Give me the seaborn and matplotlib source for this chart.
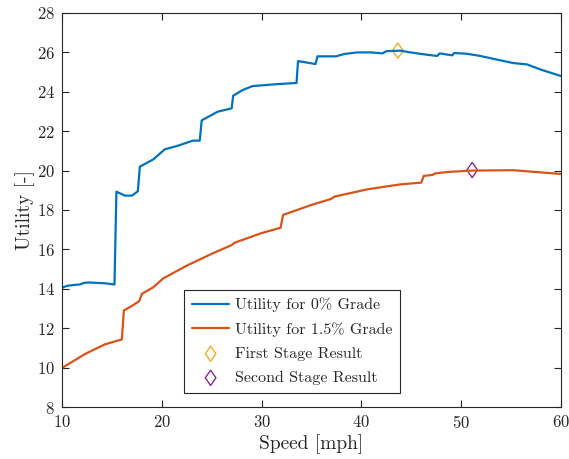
import matplotlib
matplotlib.use("Agg")
import matplotlib.pyplot as plt
import seaborn as sns
import pandas as pd
from matplotlib.path import Path

# ---- data ----
speed_0 = [10, 10.5, 11.3, 11.8, 12.2, 12.7, 14.3, 15.26, 15.45, 16.3, 17.0, 17.6, 17.8,
           19.15, 20.3, 21.6, 23.1, 23.8, 24.0, 25.6, 27.0, 27.15, 28.1, 29.1, 31.3, 33.5,
           33.65, 35.4, 35.6, 37.45, 38.3, 39.6, 41.0, 42.1, 42.5, 43.9, 44.9, 46.6, 47.6,
           47.85, 49.1, 49.3, 50.6, 51.9, 53.9, 55.2, 56.6, 57.9, 60]
util_0 = [14.05, 14.15, 14.2, 14.22, 14.3, 14.32, 14.28, 14.22, 18.93, 18.73, 18.73, 18.95, 20.2,
          20.57, 21.08, 21.26, 21.52, 21.52, 22.55, 22.99, 23.16, 23.8, 24.09, 24.29, 24.38, 24.45,
          25.56, 25.41, 25.8, 25.8, 25.92, 26.0, 26.0, 25.95, 26.06, 26.09, 26.0, 25.88, 25.82,
          25.95, 25.85, 25.97, 25.93, 25.82, 25.6, 25.46, 25.39, 25.14, 24.8]

speed_15 = [10, 12.3, 14.3, 16.0, 16.2, 17.0, 17.75, 18.0, 19.15, 20.15, 22.6, 25.1, 27.0,
            27.3, 29.95, 31.9, 32.15, 34.95, 36.95, 37.3, 40.6, 43.9, 46.0, 46.25, 47.1, 47.4,
            48.9, 51.1, 55.2, 57.2, 60]
util_15 = [9.98, 10.69, 11.18, 11.43, 12.9, 13.13, 13.38, 13.74, 14.08, 14.53, 15.2, 15.8, 16.22,
           16.34, 16.82, 17.1, 17.75, 18.25, 18.56, 18.68, 19.05, 19.3, 19.39, 19.73, 19.78, 19.86,
           19.94, 20.0, 20.02, 19.94, 19.83]

first_stage = (43.65, 26.09)
second_stage = (51.1, 20.03)

labels = ["Utility for 0% Grade", "Utility for 1.5% Grade",
          "First Stage Result", "Second Stage Result"]
x_ticks = [10, 20, 30, 40, 50, 60]
y_ticks = [8, 10, 12, 14, 16, 18, 20, 22, 24, 26, 28]

# ---- style ----
sns.set_style("ticks")
plt.rcParams["font.family"] = ["cmr10", "DejaVu Serif"]
plt.rcParams["mathtext.fontset"] = "cm"
plt.rcParams["axes.formatter.use_mathtext"] = True

dark = "#262626"
blue, orange, yellow, purple = "#0072BD", "#D95319", "#EDB120", "#7E2F8E"

# MATLAB-like diamond (taller than wide)
diamond = Path([(0, 1), (0.7, 0), (0, -1), (-0.7, 0), (0, 1)],
               [Path.MOVETO, Path.LINETO, Path.LINETO, Path.LINETO, Path.CLOSEPOLY])

fig = plt.figure(figsize=(5.69, 4.59), dpi=100)
left, right, bottom, top = 62 / 569, 561 / 569, 1 - 407 / 459, 1 - 13 / 459
ax = fig.add_axes([left, bottom, right - left, top - bottom])

df0 = pd.DataFrame({"speed": speed_0, "util": util_0})
df15 = pd.DataFrame({"speed": speed_15, "util": util_15})

sns.lineplot(data=df0, x="speed", y="util", ax=ax, color=blue, lw=1.6,
             estimator=None, sort=False, label=labels[0])
sns.lineplot(data=df15, x="speed", y="util", ax=ax, color=orange, lw=1.6,
             estimator=None, sort=False, label=labels[1])
sns.scatterplot(x=[first_stage[0]], y=[first_stage[1]], ax=ax, marker=diamond, s=120,
                facecolors="none", edgecolor=yellow, linewidth=1.0, label=labels[2])
sns.scatterplot(x=[second_stage[0]], y=[second_stage[1]], ax=ax, marker=diamond, s=120,
                facecolors="none", edgecolor=purple, linewidth=1.0, label=labels[3])

ax.set_xlim(10, 60)
ax.set_ylim(8, 28)
ax.set_xticks(x_ticks)
ax.set_yticks(y_ticks)
ax.set_xlabel("Speed [mph]", fontsize=14, color=dark, labelpad=2)
ax.set_ylabel("Utility [-]", fontsize=14, color=dark, labelpad=1)

for s in ax.spines.values():
    s.set_visible(True)
    s.set_color(dark)
    s.set_linewidth(0.8)
ax.tick_params(direction="in", length=5, width=0.8, colors=dark, labelsize=12,
               top=True, right=True, pad=5)

leg = ax.legend(loc="lower left", bbox_to_anchor=(0.245, 0.0355), fontsize=11.5,
                frameon=True, fancybox=False, framealpha=1, edgecolor=dark,
                handlelength=2.3, labelspacing=0.62, borderpad=0.5,
                handletextpad=0.35, borderaxespad=0)
leg.get_frame().set_linewidth(0.8)
for t in leg.get_texts():
    t.set_color(dark)

fig.savefig("out.png", dpi=100)
